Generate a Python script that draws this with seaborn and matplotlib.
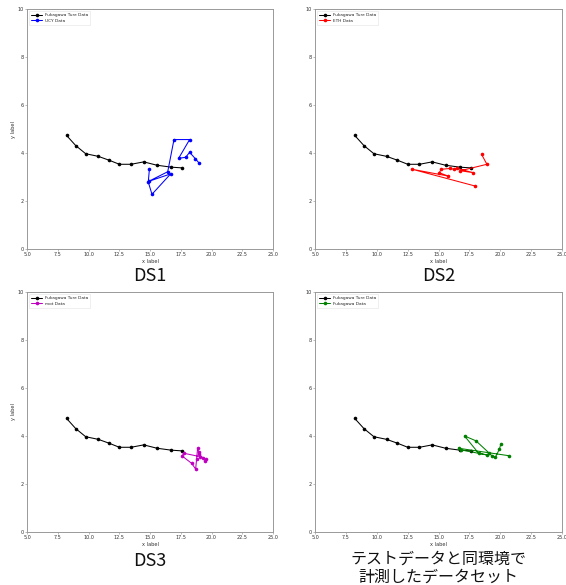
import matplotlib
matplotlib.use("Agg")
import matplotlib.pyplot as plt
import seaborn as sns
import pandas as pd

sns.set_style("white")
plt.rcParams['font.family'] = ['DejaVu Sans']

# Ground-truth trajectory (same in every panel)
true_x = [8.22, 8.96, 9.77, 10.80, 11.67, 12.51, 13.46, 14.49, 15.57, 16.73, 17.60]
true_y = [4.73, 4.31, 3.97, 3.86, 3.70, 3.53, 3.53, 3.63, 3.49, 3.41, 3.38]

ucy_x = [14.95, 14.86, 15.16, 16.68, 14.90, 16.44, 16.95, 18.22, 17.33, 17.90, 18.22, 18.69, 19.01]
ucy_y = [3.32, 2.79, 2.28, 3.13, 2.82, 3.22, 4.56, 4.56, 3.78, 3.82, 4.03, 3.76, 3.57]

eth_x = [18.49, 18.92, 16.78, 17.81, 16.51, 16.24, 15.97, 15.24, 15.05, 15.78, 12.89, 17.92]
eth_y = [3.94, 3.53, 3.26, 3.18, 3.36, 3.32, 3.36, 3.32, 3.18, 3.04, 3.32, 2.63]

mot_x = [19.07, 17.76, 17.60, 18.39, 18.71, 18.79, 18.87, 18.95, 18.98, 19.34, 19.55, 19.47]
mot_y = [3.14, 3.28, 3.17, 2.86, 2.62, 3.04, 3.49, 3.35, 3.25, 3.07, 3.03, 2.97]

fuk_x = [20.04, 19.93, 19.60, 19.33, 19.06, 18.03, 17.11, 18.25, 18.93, 16.84, 16.62, 20.68]
fuk_y = [3.65, 3.45, 3.11, 3.17, 3.31, 3.80, 4.00, 3.28, 3.21, 3.42, 3.49, 3.18]

true_label = "Fukagawa Ture Data"
panel_labels = ["UCY Data", "ETH Data", "mot Data", "Fukagawa Data"]
panel_colors = ["#0000ff", "#ff0000", "#bf00bf", "#008000"]
captions = ["DS1", "DS2", "DS3", "テストデータと同環境で\n計測したデータセット"]
xticks = [5.0, 7.5, 10.0, 12.5, 15.0, 17.5, 20.0, 22.5, 25.0]
yticks = [0, 2, 4, 6, 8, 10]

series = [(ucy_x, ucy_y), (eth_x, eth_y), (mot_x, mot_y), (fuk_x, fuk_y)]

W, H = 566, 585
fig = plt.figure(figsize=(W / 100, H / 100), dpi=100)

# pixel boxes: left, top, right, bottom
boxes = [(27, 9, 273, 249), (315, 9, 562, 249),
         (27, 292, 273, 532), (315, 292, 562, 532)]
show_ylabel = [True, False, True, False]

for i, (box, (sx, sy)) in enumerate(zip(boxes, series)):
    l, t, r, b = box
    ax = fig.add_axes([l / W, 1 - b / H, (r - l) / W, (b - t) / H])
    df_true = pd.DataFrame({"x": true_x, "y": true_y})
    df_s = pd.DataFrame({"x": sx, "y": sy})
    sns.lineplot(data=df_true, x="x", y="y", sort=False, estimator=None,
                 color="black", marker="o", markersize=2.6, markeredgewidth=0,
                 linewidth=0.75, label=true_label, ax=ax)
    sns.lineplot(data=df_s, x="x", y="y", sort=False, estimator=None,
                 color=panel_colors[i], marker="o", markersize=2.6, markeredgewidth=0,
                 linewidth=0.75, label=panel_labels[i], ax=ax)
    ax.set_xlim(5, 25)
    ax.set_ylim(0, 10)
    ax.set_xticks(xticks)
    ax.set_xticklabels([f"{v:.1f}" for v in xticks])
    ax.set_yticks(yticks)
    ax.set_xlabel("x label", fontsize=3.6, labelpad=1, color="#333333")
    if show_ylabel[i]:
        ax.set_ylabel("y label", fontsize=3.6, labelpad=1, color="#333333")
    else:
        ax.set_ylabel("")
    ax.tick_params(labelsize=3.5, length=1.5, width=0.4, pad=1,
                   colors="#888888", labelcolor="#333333", bottom=True, left=True)
    for sp in ax.spines.values():
        sp.set_color("#999999")
        sp.set_linewidth(0.7)
    leg = ax.legend(loc="upper left", fontsize=3.1, frameon=True,
                    handlelength=2.6, borderpad=0.45, labelspacing=0.35,
                    handletextpad=0.6, fancybox=False, edgecolor="#dddddd")
    leg.get_frame().set_linewidth(0.4)

    cx = (l + r) / 2 / W
    if i < 3:
        cy = 1 - ((276 if i < 2 else 561) / H)
        fig.text(cx, cy, captions[i], ha="center", va="center", fontsize=13,
                 family=["Noto Sans CJK JP", "DejaVu Sans"], color="#111111")
    else:
        fig.text(cx, 1 - 568 / H, captions[i], ha="center", va="center", fontsize=11.5,
                 family=["Noto Sans CJK JP", "DejaVu Sans"], color="#111111",
                 linespacing=1.05)

fig.savefig("out.png", dpi=100)
